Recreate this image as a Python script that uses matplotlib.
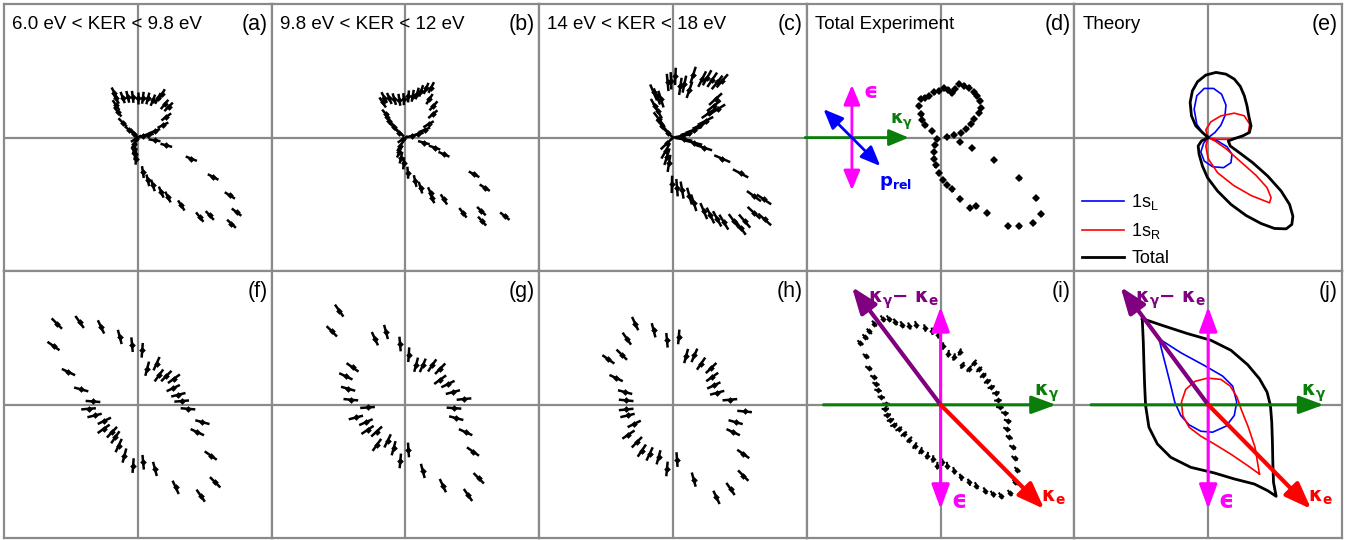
"""
Ten-panel figure: radial error-bar angular distributions (a-d, f-i)
and theory curves (e, j), with vector arrows in (d), (i), (j).
"""

import matplotlib
matplotlib.use("Agg")
import matplotlib.pyplot as plt
import numpy as np
from matplotlib.collections import LineCollection

plt.rcParams["font.family"] = ["Liberation Sans", "DejaVu Sans"]

GREY = "#8a8a8a"
GREEN = "#0a7d0a"
MAGENTA = "#ff00ff"
PURPLE = "#800080"
RED = "#ff0000"
BLUE = "#0000ff"

TITLES = ["6.0 eV < KER < 9.8 eV", "9.8 eV < KER < 12 eV", "14 eV < KER < 18 eV",
          "Total Experiment", "Theory", "", "", "", "", ""]
LABELS = ["(a)", "(b)", "(c)", "(d)", "(e)", "(f)", "(g)", "(h)", "(i)", "(j)"]

# ---- experimental points (x, y), panel half-width = 1 ----
XA = [-0.175, -0.163, -0.163, -0.15, -0.113, -0.063, -0.025, -0.113, -0.075, -0.038, 0.0, 0.038,
      0.075, 0.113, 0.15, 0.18, 0.20, 0.23, 0.213, 0.188, 0.125, 0.075, 0.038, -0.013, -0.025,
      -0.025, -0.018, -0.013, 0.038, 0.075, 0.113, 0.175, 0.225, 0.325, 0.463, 0.538, 0.70, 0.738,
      0.688, 0.563, 0.40, 0.213, 0.125]
YA = [0.335, 0.293, 0.243, 0.193, 0.113, 0.055, 0.03, 0.30, 0.305, 0.305, 0.293, 0.298,
      0.293, 0.28, 0.293, 0.323, 0.248, 0.23, 0.155, 0.093, 0.048, 0.018, 0.013, -0.008, -0.045,
      -0.083, -0.12, -0.158, -0.258, -0.32, -0.358, -0.408, -0.445, -0.508, -0.595, -0.583, -0.645,
      -0.558, -0.433, -0.295, -0.158, -0.058, -0.02]

XB = [-0.17, -0.145, -0.12, -0.088, -0.045, -0.158, -0.12, -0.083, -0.045, -0.013, 0.023, 0.055,
      0.088, 0.118, 0.155, 0.193, 0.18, 0.21, 0.205, 0.173, 0.143, 0.093, 0.048, -0.02, -0.038,
      -0.045, -0.033, -0.013, 0.018, 0.073, 0.113, 0.188, 0.198, 0.288, 0.43, 0.568, 0.573, 0.743,
      0.593, 0.513, 0.288, 0.218, 0.138]
YB = [0.263, 0.175, 0.125, 0.08, 0.038, 0.30, 0.293, 0.288, 0.283, 0.288, 0.308, 0.313,
      0.33, 0.35, 0.368, 0.375, 0.288, 0.238, 0.175, 0.10, 0.058, 0.025, 0.013, -0.013, -0.063,
      -0.108, -0.15, -0.193, -0.263, -0.325, -0.375, -0.413, -0.45, -0.463, -0.563, -0.55, -0.625,
      -0.588, -0.375, -0.275, -0.125, -0.075, -0.038]

XC = [-0.145, -0.12, -0.09, -0.133, -0.115, -0.105, -0.08, -0.04, -0.04, -0.015, 0.018, 0.055,
      0.085, 0.123, 0.15, 0.218, 0.255, 0.293, 0.33, 0.368, 0.318, 0.305, 0.335, 0.268, 0.243,
      0.205, 0.155, 0.118, 0.068, -0.045, -0.055, -0.045, -0.03, -0.008, 0.03, 0.068, 0.123, 0.155,
      0.23, 0.28, 0.33, 0.38, 0.455, 0.505, 0.535, 0.605, 0.685, 0.605, 0.68, 0.505, 0.368, 0.23,
      0.155, 0.08]
YC = [0.338, 0.308, 0.288, 0.233, 0.20, 0.138, 0.088, 0.038, 0.413, 0.425, 0.458, 0.383,
      0.40, 0.358, 0.468, 0.438, 0.448, 0.433, 0.413, 0.425, 0.288, 0.238, 0.213, 0.183, 0.125,
      0.093, 0.058, 0.038, 0.013, -0.043, -0.10, -0.143, -0.193, -0.35, -0.375, -0.393, -0.438,
      -0.488, -0.55, -0.583, -0.608, -0.633, -0.625, -0.675, -0.625, -0.563, -0.613, -0.438, -0.463,
      -0.268, -0.158, -0.075, -0.038, -0.013]

XD = [-0.163, -0.15, -0.118, -0.143, -0.138, -0.113, -0.063, -0.083, -0.048, -0.013, 0.025, 0.058,
      0.083, 0.108, 0.138, 0.175, 0.213, 0.25, 0.275, 0.295, 0.30, 0.288, 0.25, 0.225, 0.193, 0.15,
      0.10, 0.05, -0.025, -0.043, -0.05, -0.05, -0.038, -0.013, 0.018, 0.05, 0.088, 0.143, 0.218,
      0.268, 0.35, 0.505, 0.588, 0.693, 0.75, 0.713, 0.588, 0.40, 0.238, 0.145]
YD = [0.238, 0.288, 0.298, 0.175, 0.133, 0.093, 0.05, 0.313, 0.338, 0.35, 0.368, 0.358,
      0.333, 0.363, 0.40, 0.388, 0.375, 0.338, 0.308, 0.275, 0.225, 0.183, 0.138, 0.10, 0.068, 0.038,
      0.018, 0.008, -0.013, -0.058, -0.108, -0.158, -0.208, -0.268, -0.318, -0.353, -0.388, -0.458,
      -0.525, -0.513, -0.563, -0.663, -0.663, -0.638, -0.575, -0.455, -0.305, -0.168, -0.075, -0.033]

XF = [-0.605, -0.435, -0.275, -0.135, -0.043, 0.033, 0.07, 0.14, 0.158, 0.213, 0.27, 0.265, 0.303,
      0.328, 0.375, 0.483, 0.445, 0.545, 0.578, 0.47, 0.283, 0.128, 0.04, -0.035, -0.10, -0.143,
      -0.168, -0.193, -0.255, -0.25, -0.323, -0.368, -0.335, -0.423, -0.518, -0.63]
YF = [0.608, 0.62, 0.583, 0.508, 0.45, 0.408, 0.27, 0.308, 0.22, 0.215, 0.195, 0.125, 0.075,
      0.028, -0.03, -0.13, -0.205, -0.38, -0.58, -0.68, -0.618, -0.48, -0.43, -0.455, -0.38, -0.305,
      -0.243, -0.205, -0.18, -0.12, -0.08, -0.03, 0.025, 0.115, 0.245, 0.44]

XG = [-0.495, -0.55, -0.228, -0.145, -0.04, 0.025, 0.08, 0.13, 0.20, 0.26, 0.26, 0.318, 0.355,
      0.438, 0.363, 0.38, 0.45, 0.505, 0.548, 0.468, 0.28, 0.13, 0.023, -0.038, -0.088, -0.133,
      -0.213, -0.215, -0.283, -0.295, -0.37, -0.283, -0.408, -0.428, -0.445, -0.395]
YG = [0.705, 0.55, 0.495, 0.545, 0.455, 0.375, 0.30, 0.295, 0.295, 0.27, 0.188, 0.155, 0.095,
      0.043, -0.025, -0.10, -0.205, -0.35, -0.55, -0.675, -0.605, -0.495, -0.338, -0.42, -0.325,
      -0.27, -0.30, -0.20, -0.188, -0.13, -0.095, -0.02, 0.038, 0.12, 0.213, 0.28]

XH = [-0.283, -0.145, -0.045, 0.043, 0.098, 0.16, 0.21, 0.285, 0.293, 0.305, 0.33, 0.425, 0.535,
      0.468, 0.45, 0.525, 0.525, 0.43, 0.325, 0.155, 0.03, -0.045, -0.108, -0.175, -0.233, -0.27,
      -0.333, -0.29, -0.34, -0.35, -0.35, -0.358, -0.425, -0.483, -0.383, -0.345]
YH = [0.608, 0.558, 0.483, 0.508, 0.365, 0.37, 0.308, 0.275, 0.208, 0.145, 0.09, 0.038, -0.05,
      -0.13, -0.205, -0.368, -0.53, -0.63, -0.693, -0.56, -0.41, -0.48, -0.393, -0.368, -0.343, -0.28,
      -0.223, -0.143, -0.08, -0.035, 0.033, 0.095, 0.20, 0.34, 0.375, 0.495]

XI = [-0.60, -0.563, -0.533, -0.495, -0.433, -0.388, -0.338, -0.288, -0.233, -0.183, -0.118, -0.063,
      -0.018, 0.018, 0.058, 0.10, 0.143, 0.163, 0.213, 0.25, 0.288, 0.318, 0.35, 0.378, 0.413, 0.428,
      0.443, 0.48, 0.50, 0.495, 0.513, 0.538, 0.553, 0.573, 0.558, 0.518, 0.45, 0.388, 0.333, 0.268,
      0.213, 0.15, 0.10, 0.05, 0.013, -0.025, -0.058, -0.10, -0.15, -0.193, -0.233, -0.275, -0.313,
      -0.35, -0.375, -0.398, -0.413, -0.408, -0.443, -0.468, -0.483, -0.50, -0.538, -0.558]
YI = [0.465, 0.508, 0.55, 0.608, 0.645, 0.645, 0.62, 0.60, 0.59, 0.60, 0.575, 0.55,
      0.525, 0.44, 0.383, 0.358, 0.395, 0.295, 0.27, 0.315, 0.265, 0.22, 0.175, 0.133, 0.09, 0.033,
      -0.018, -0.06, -0.118, -0.18, -0.243, -0.318, -0.40, -0.485, -0.58, -0.66, -0.68, -0.668, -0.643,
      -0.605, -0.58, -0.543, -0.493, -0.455, -0.43, -0.455, -0.405, -0.38, -0.343, -0.305, -0.26,
      -0.218, -0.18, -0.15, -0.113, -0.075, -0.03, 0.008, 0.058, 0.108, 0.158, 0.208, 0.275, 0.365]

# radial error half-lengths per panel
ERR = {"a": 0.045, "b": 0.045, "c": 0.065, "d": 0.02, "f": 0.055, "g": 0.055, "h": 0.055, "i": 0.028}

# ---- theory curves (e) ----
E_TOTAL_X = [0, -0.043, -0.093, -0.125, -0.135, -0.118, -0.08, -0.018, 0.058, 0.133, 0.195, 0.24,
             0.27, 0.29, 0.303, 0.32, 0.308, 0.258, 0.195, 0.15, 0.165, 0.233, 0.333, 0.445, 0.545,
             0.608, 0.633, 0.625, 0.583, 0.495, 0.395, 0.283, 0.17, 0.07, -0.005, -0.043, -0.068,
             -0.075, -0.05, 0]
E_TOTAL_Y = [0, 0.038, 0.088, 0.163, 0.263, 0.35, 0.418, 0.468, 0.488, 0.475, 0.438, 0.383,
             0.313, 0.238, 0.163, 0.088, 0.038, 0.013, -0.008, -0.025, -0.063, -0.113, -0.188, -0.288,
             -0.40, -0.50, -0.588, -0.65, -0.683, -0.68, -0.643, -0.583, -0.50, -0.40, -0.30, -0.213,
             -0.125, -0.063, -0.025, 0]
E_L_X = [0, -0.043, -0.085, -0.105, -0.085, -0.03, 0.04, 0.10, 0.133, 0.125, 0.095, 0.05, 0,
         0.07, 0.14, 0.178, 0.17, 0.115, 0.033, -0.03, -0.055, -0.035, 0]
E_L_Y = [0, 0.038, 0.10, 0.213, 0.313, 0.368, 0.368, 0.325, 0.243, 0.163, 0.093, 0.038, 0,
         -0.025, -0.068, -0.125, -0.188, -0.225, -0.218, -0.175, -0.108, -0.043, 0]
E_R_X = [0, -0.018, 0.02, 0.095, 0.195, 0.27, 0.31, 0.30, 0.25, 0.158, 0.07, 0,
         -0.018, 0, 0.07, 0.19, 0.32, 0.458, 0.47, 0.44, 0.358, 0.245, 0.133, 0.05, 0]
E_R_Y = [0, 0.058, 0.118, 0.163, 0.183, 0.163, 0.10, 0.038, 0.005, -0.013, -0.013, 0,
         -0.063, -0.158, -0.263, -0.358, -0.433, -0.488, -0.45, -0.375, -0.283, -0.183, -0.083,
         -0.025, 0]

# ---- theory curves (j) ----
J_TOTAL_X = [-0.493, -0.33, -0.155, 0.02, 0.17, 0.295, 0.383, 0.44, 0.465, 0.475, 0.48, 0.483,
             0.488, 0.508, 0.445, 0.345, 0.195, 0.045, -0.13, -0.28, -0.38, -0.443, -0.468, -0.475,
             -0.48, -0.485, -0.493]
J_TOTAL_Y = [0.645, 0.59, 0.533, 0.483, 0.408, 0.30, 0.195, 0.095, -0.005, -0.13, -0.28, -0.43,
             -0.58, -0.685, -0.643, -0.593, -0.555, -0.51, -0.468, -0.393, -0.293, -0.168, -0.005,
             0.145, 0.295, 0.47, 0.645]
J_L_X = [-0.368, -0.205, -0.03, 0.108, 0.183, 0.213, 0.195, 0.133, 0.033, -0.055, -0.143, -0.205,
         -0.25, -0.28, -0.318, -0.35, -0.368]
J_L_Y = [0.495, 0.39, 0.295, 0.215, 0.14, 0.02, -0.08, -0.16, -0.205, -0.198, -0.15, -0.08,
         0.02, 0.145, 0.295, 0.42, 0.495]
J_R_X = [0.383, 0.35, 0.30, 0.25, 0.215, 0.165, 0.095, -0.005, -0.10, -0.168, -0.20, -0.19,
         -0.143, -0.055, 0.045, 0.17, 0.295, 0.383]
J_R_Y = [-0.518, -0.318, -0.168, -0.043, 0.058, 0.14, 0.19, 0.20, 0.175, 0.115, 0.02, -0.08,
         -0.168, -0.235, -0.293, -0.37, -0.455, -0.518]

# ---- vectors ----
D_ORIGIN = (-0.663, 0.0)
D_EPS = 0.394          # half-length of polarisation arrow
D_PREL = (0.2125, -0.213)
D_KG = (-0.35, 0.425)  # start / end of photon arrow along x (relative)
I_KE = (0.775, -0.78)
I_KDIFF = (-0.663, 0.883)
I_EPS = (0.733, -0.78)
I_KG = (-0.875, 0.8625)
J_KE = (0.77, -0.78)
J_KDIFF = (-0.655, 0.883)

KG_TXT = r"$\mathbf{\kappa}_{\mathbf{\gamma}}$"
KE_TXT = r"$\mathbf{\kappa}_{\mathbf{e}}$"
KDIFF_TXT = r"$\mathbf{\kappa}_{\mathbf{\gamma}}\mathbf{-}\ \mathbf{\kappa}_{\mathbf{e}}$"
EPS_TXT = "\u03f5"
PREL_TXT = r"$\mathbf{p}_{\mathbf{rel}}$"


def draw_points(ax, xs, ys, err, lw=1.8, ms=3.4):
    xs = np.asarray(xs, float)
    ys = np.asarray(ys, float)
    r = np.hypot(xs, ys)
    ux, uy = xs / r, ys / r
    segs = np.stack([np.column_stack([xs - err * ux, ys - err * uy]),
                     np.column_stack([xs + err * ux, ys + err * uy])], axis=1)
    ax.add_collection(LineCollection(segs, colors="black", linewidths=lw, zorder=3))
    ax.plot(xs, ys, "D", color="black", ms=ms, mew=0, zorder=3)


def arrow(ax, start, end, color, lw, hl, hw, both=False):
    style = f"{'<|-|>' if both else '-|>'},head_length={hl},head_width={hw}"
    ax.annotate("", xy=end, xytext=start, annotation_clip=False,
                arrowprops=dict(arrowstyle=style, color=color, lw=lw,
                                shrinkA=0, shrinkB=0, mutation_scale=10),
                zorder=4)


def eps_label(ax, x, y, size):
    ax.text(x, y, EPS_TXT, color=MAGENTA, fontsize=size, fontweight="bold",
            family="DejaVu Sans", ha="center", va="center", zorder=5)


fig = plt.figure(figsize=(13.56, 5.40), dpi=100)
W, H = 1356, 540
pw = 267.6
axes = []
for row in range(2):
    for col in range(5):
        left = 4 + col * pw
        top = 4 + row * 267.2
        ax = fig.add_axes([left / W, 1 - (top + 267.2) / H, pw / W, 267.2 / H])
        ax.set_xlim(-1, 1)
        ax.set_ylim(-1, 1)
        ax.set_xticks([])
        ax.set_yticks([])
        for s in ax.spines.values():
            s.set_color(GREY)
            s.set_linewidth(1.6)
        ax.axhline(0, color=GREY, lw=1.6, zorder=1)
        ax.axvline(0, color=GREY, lw=1.6, zorder=1)
        i = row * 5 + col
        if TITLES[i]:
            ax.text(0.03, 0.925, TITLES[i], transform=ax.transAxes, fontsize=13.5,
                    ha="left", va="center", zorder=5)
        ax.text(0.985, 0.925, LABELS[i], transform=ax.transAxes, fontsize=15.5,
                ha="right", va="center", zorder=5)
        axes.append(ax)

ax_a, ax_b, ax_c, ax_d, ax_e, ax_f, ax_g, ax_h, ax_i, ax_j = axes

draw_points(ax_a, XA, YA, ERR["a"])
draw_points(ax_b, XB, YB, ERR["b"])
draw_points(ax_c, XC, YC, ERR["c"])
draw_points(ax_d, XD, YD, ERR["d"], lw=1.6, ms=3.6)
draw_points(ax_f, XF, YF, ERR["f"])
draw_points(ax_g, XG, YG, ERR["g"])
draw_points(ax_h, XH, YH, ERR["h"])
draw_points(ax_i, XI, YI, ERR["i"], lw=1.5, ms=3.2)

# (d) vectors
ox, oy = D_ORIGIN
arrow(ax_d, (ox + D_KG[0], oy), (ox + D_KG[1], oy), GREEN, 2.0, 1.2, 0.5)
arrow(ax_d, (ox, oy - D_EPS), (ox, oy + D_EPS), MAGENTA, 2.0, 1.2, 0.5, both=True)
arrow(ax_d, (ox - D_PREL[0], oy - D_PREL[1]), (ox + D_PREL[0], oy + D_PREL[1]), BLUE,
      2.0, 1.2, 0.5, both=True)
eps_label(ax_d, -0.525, 0.345, 16)
ax_d.text(-0.29, 0.118, KG_TXT, color=GREEN, fontsize=13, ha="center", va="center", zorder=5)
ax_d.text(-0.338, -0.338, PREL_TXT, color=BLUE, fontsize=13, ha="center", va="center", zorder=5)

# (e) theory
ax_e.plot(E_L_X, E_L_Y, color=BLUE, lw=1.2, zorder=2, label="1s$_\\mathregular{L}$")
ax_e.plot(E_R_X, E_R_Y, color=RED, lw=1.2, zorder=2, label="1s$_\\mathregular{R}$")
ax_e.plot(E_TOTAL_X, E_TOTAL_Y, color="black", lw=2.0, zorder=2, label="Total")
ax_e.legend(loc="lower left", bbox_to_anchor=(0.03, 0.015), frameon=False, fontsize=13,
            handlelength=2.3, handletextpad=0.4, labelspacing=0.5, borderpad=0,
            borderaxespad=0)

# (j) theory
ax_j.plot(J_TOTAL_X, J_TOTAL_Y, color="black", lw=2.0, zorder=2)
ax_j.plot(J_L_X, J_L_Y, color=BLUE, lw=1.2, zorder=2)
ax_j.plot(J_R_X, J_R_Y, color=RED, lw=1.2, zorder=2)

# (i), (j) vectors
for ax, ke, kd in [(ax_i, I_KE, I_KDIFF), (ax_j, J_KE, J_KDIFF)]:
    arrow(ax, (I_KG[0], 0), (I_KG[1], 0), GREEN, 2.2, 1.5, 0.55)
    arrow(ax, (0, I_EPS[1]), (0, I_EPS[0]), MAGENTA, 2.2, 1.5, 0.55, both=True)
    arrow(ax, (0, 0), kd, PURPLE, 3.0, 1.6, 0.6)
    arrow(ax, (0, 0), ke, RED, 3.0, 1.6, 0.6)
    ax.text(-0.28, 0.78, KDIFF_TXT, color=PURPLE, fontsize=14, ha="center", va="center", zorder=5)
    ax.text(0.79, 0.09, KG_TXT, color=GREEN, fontsize=14, ha="center", va="center", zorder=5)
    ax.text(0.84, -0.70, KE_TXT, color=RED, fontsize=14, ha="center", va="center", zorder=5)
    eps_label(ax, 0.135, -0.72, 17)

fig.savefig("out.png", dpi=100)
